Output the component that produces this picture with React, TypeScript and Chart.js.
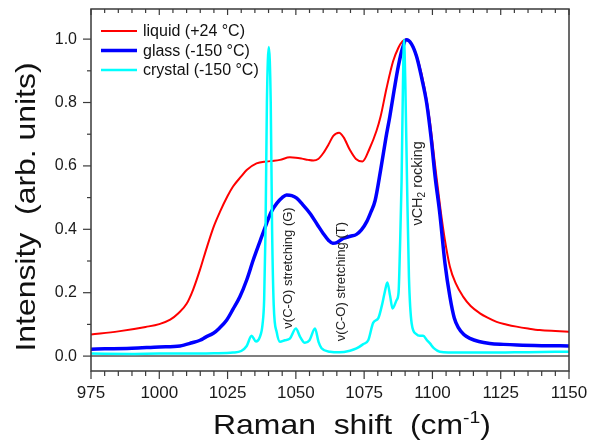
import React, { useEffect, useRef } from "react";
import { Chart, registerables } from "chart.js";

Chart.register(...registerables);

const FONT = '"Liberation Sans", Arial, Helvetica, sans-serif';

// ---------- data ----------
const xTicks = [975, 1000, 1025, 1050, 1075, 1100, 1125, 1150];
const yTicks = [0, 0.2, 0.4, 0.6, 0.8, 1.0];
const seriesNames = ["liquid (+24 °C)", "glass (-150 °C)", "crystal (-150 °C)"];

const liquidX = [975, 985, 995, 1000, 1004, 1007, 1010, 1012.4, 1015, 1017.3, 1020, 1022.2, 1025, 1027, 1030, 1032, 1035.6, 1039.3, 1042, 1044.2, 1047.8, 1050, 1052.2, 1054.5, 1056.4, 1058.2, 1060, 1062, 1063.7, 1065.8, 1067.5, 1069.8, 1072, 1074.4, 1077, 1079.5, 1081, 1083.2, 1085.6, 1087.5, 1089, 1090.3, 1091.5, 1093, 1095, 1097, 1099, 1101, 1103, 1104.5, 1106.4, 1108.5, 1111.3, 1114, 1117.4, 1120, 1123.5, 1127, 1130.8, 1135, 1139.3, 1145, 1150];
const liquidY = [0.068, 0.078, 0.092, 0.101, 0.115, 0.135, 0.165, 0.21, 0.275, 0.34, 0.41, 0.455, 0.505, 0.535, 0.567, 0.587, 0.608, 0.614, 0.616, 0.619, 0.627, 0.626, 0.623, 0.619, 0.617, 0.622, 0.64, 0.668, 0.695, 0.705, 0.69, 0.65, 0.622, 0.614, 0.655, 0.71, 0.755, 0.845, 0.93, 0.972, 0.993, 0.999, 0.995, 0.975, 0.925, 0.85, 0.745, 0.6, 0.46, 0.37, 0.282, 0.23, 0.187, 0.158, 0.135, 0.122, 0.108, 0.1, 0.093, 0.087, 0.082, 0.079, 0.077];

const glassX = [975, 990, 1000, 1007.6, 1012, 1014.9, 1017, 1019.8, 1022, 1024.7, 1027, 1029.5, 1032, 1034.4, 1037, 1039.3, 1041, 1043, 1045, 1046.6, 1048.5, 1050.3, 1052.5, 1055.2, 1058, 1060, 1062, 1063.5, 1065, 1067.3, 1070, 1072.2, 1074, 1076, 1077.5, 1079, 1081, 1083, 1084.4, 1086, 1087.5, 1089, 1090.5, 1092.3, 1094.2, 1096, 1097.9, 1099.5, 1101, 1102.7, 1104.6, 1106.4, 1108, 1109.5, 1111.5, 1113.7, 1117, 1121, 1126, 1131, 1140, 1150];
const glassY = [0.022, 0.025, 0.029, 0.032, 0.042, 0.05, 0.06, 0.072, 0.088, 0.114, 0.148, 0.187, 0.24, 0.303, 0.365, 0.419, 0.455, 0.482, 0.5, 0.508, 0.506, 0.498, 0.478, 0.45, 0.413, 0.387, 0.365, 0.356, 0.358, 0.371, 0.378, 0.384, 0.398, 0.425, 0.455, 0.49, 0.585, 0.69, 0.756, 0.84, 0.914, 0.97, 0.998, 0.985, 0.945, 0.88, 0.798, 0.69, 0.565, 0.45, 0.292, 0.187, 0.12, 0.09, 0.068, 0.056, 0.046, 0.04, 0.037, 0.035, 0.033, 0.032];

const crystalX = [975, 990, 1000, 1010, 1020, 1027, 1030, 1032, 1033.8, 1035.4, 1036.8, 1037.8, 1038.4, 1038.9, 1039.4, 1040.1, 1040.8, 1041.3, 1041.9, 1043, 1044.2, 1046, 1047.8, 1050, 1051.6, 1053.3, 1055, 1057, 1058.3, 1059.4, 1062.5, 1066, 1069.8, 1072.2, 1074.7, 1076.5, 1078.3, 1080.2, 1081.5, 1082.5, 1083.5, 1084.5, 1085.4, 1086.9, 1087.6, 1088.1, 1088.7, 1089.2, 1089.6, 1090.1, 1090.7, 1091.4, 1092.4, 1094, 1095.4, 1096.6, 1098, 1099.1, 1100.5, 1102.7, 1110, 1120, 1130, 1140, 1150];
const crystalY = [0.008, 0.007, 0.008, 0.008, 0.009, 0.011, 0.016, 0.032, 0.064, 0.046, 0.06, 0.1, 0.18, 0.4, 0.8, 0.975, 0.8, 0.4, 0.16, 0.075, 0.045, 0.05, 0.055, 0.087, 0.06, 0.042, 0.05, 0.087, 0.045, 0.025, 0.014, 0.012, 0.017, 0.024, 0.038, 0.05, 0.105, 0.12, 0.16, 0.2, 0.232, 0.19, 0.15, 0.177, 0.2, 0.335, 0.55, 0.85, 0.998, 0.85, 0.55, 0.25, 0.103, 0.07, 0.064, 0.064, 0.05, 0.04, 0.025, 0.014, 0.011, 0.011, 0.012, 0.013, 0.014];

// peak labels (text and the data position of their centre)
const peakLabelText = ["ν(C-O) stretching (G)", "ν(C-O) stretching (T)"];
const peakLabelX = [1047.1, 1066.5];
const peakLabelY = [0.278, 0.235];
const rockingLabelX = 1094.6;
const rockingLabelY = 0.545;

// ---------- styles ----------
const seriesColors = ["#ff0000", "#0000ff", "#00ffff"];
const seriesWidths = [2, 3.5, 2.5];
const TITLE_STRETCH = 1.14;

const pts = (xs: number[], ys: number[]) => xs.map((x, i) => ({ x, y: ys[i] }));

const decorPlugin = {
  id: "decor",
  beforeDatasetsDraw(chart: any) {
    const { ctx, chartArea: a, scales } = chart;
    const y0 = scales.y.getPixelForValue(0);
    ctx.save();
    ctx.strokeStyle = "#555";
    ctx.lineWidth = 1.5;
    ctx.beginPath();
    ctx.moveTo(a.left, y0);
    ctx.lineTo(a.right, y0);
    ctx.stroke();
    ctx.restore();
  },
  afterDatasetsDraw(chart: any) {
    const { ctx, chartArea: a, scales } = chart;
    const xs = scales.x;
    const ys = scales.y;
    ctx.save();
    // frame
    ctx.strokeStyle = "#3a3a3a";
    ctx.lineWidth = 1.5;
    ctx.strokeRect(a.left, a.top, a.right - a.left, a.bottom - a.top);

    // x ticks (bottom outward, top inward)
    ctx.lineWidth = 1.2;
    for (let v = 975; v <= 1150 + 1e-6; v += 5) {
      const major = Math.abs(v % 25) < 1e-6;
      const px = xs.getPixelForValue(v);
      ctx.beginPath();
      ctx.moveTo(px, a.bottom);
      ctx.lineTo(px, a.bottom + (major ? 8 : 5));
      ctx.moveTo(px, a.top);
      ctx.lineTo(px, a.top + (major ? 6 : 4));
      ctx.stroke();
    }
    // y ticks (left outward)
    for (let k = 0; k <= 10; k++) {
      const v = k / 10;
      const major = k % 2 === 0;
      const py = ys.getPixelForValue(v);
      ctx.beginPath();
      ctx.moveTo(a.left, py);
      ctx.lineTo(a.left - (major ? 8 : 4), py);
      ctx.stroke();
    }

    // peak labels
    ctx.fillStyle = "#222";
    ctx.font = `13px ${FONT}`;
    ctx.textAlign = "center";
    ctx.textBaseline = "middle";
    peakLabelText.forEach((t, i) => {
      ctx.save();
      ctx.translate(xs.getPixelForValue(peakLabelX[i]), ys.getPixelForValue(peakLabelY[i]));
      ctx.rotate(-Math.PI / 2);
      ctx.fillText(t, 0, 0);
      ctx.restore();
    });
    // νCH2 rocking with subscript
    {
      ctx.save();
      ctx.translate(xs.getPixelForValue(rockingLabelX), ys.getPixelForValue(rockingLabelY));
      ctx.rotate(-Math.PI / 2);
      ctx.textAlign = "left";
      const f1 = `14.5px ${FONT}`;
      const f2 = `10px ${FONT}`;
      ctx.font = f1;
      const w1 = ctx.measureText("νCH").width;
      const w3 = ctx.measureText(" rocking").width;
      ctx.font = f2;
      const w2 = ctx.measureText("2").width;
      const total = w1 + w2 + w3;
      let cx = -total / 2;
      ctx.font = f1;
      ctx.fillText("νCH", cx, 0);
      cx += w1;
      ctx.font = f2;
      ctx.fillText("2", cx, 5);
      cx += w2;
      ctx.font = f1;
      ctx.fillText(" rocking", cx, 0);
      ctx.restore();
    }

    // legend
    ctx.font = `16px ${FONT}`;
    ctx.textAlign = "left";
    ctx.textBaseline = "middle";
    seriesNames.forEach((n, i) => {
      const ly = a.top + 22 + i * 19.5;
      ctx.strokeStyle = seriesColors[i];
      ctx.lineWidth = seriesWidths[i];
      ctx.beginPath();
      ctx.moveTo(a.left + 10, ly);
      ctx.lineTo(a.left + 46, ly);
      ctx.stroke();
      ctx.fillStyle = "#111";
      ctx.fillText(n, a.left + 52, ly + 1);
    });
    ctx.restore();
  },
  afterDraw(chart: any) {
    const { ctx } = chart;
    ctx.save();
    ctx.fillStyle = "#111";
    // y title
    ctx.font = `28px ${FONT}`;
    ctx.textAlign = "center";
    ctx.textBaseline = "alphabetic";
    ctx.save();
    ctx.translate(35, 207);
    ctx.rotate(-Math.PI / 2);
    ctx.scale(TITLE_STRETCH, 1);
    ctx.fillText("Intensity  (arb. units)", 0, 0);
    ctx.restore();
    // x title
    const p1 = "Raman  shift  (cm";
    const p2 = "-1";
    const p3 = ")";
    const big = `28px ${FONT}`;
    const small = `17px ${FONT}`;
    ctx.font = big;
    const w1 = ctx.measureText(p1).width;
    const w3 = ctx.measureText(p3).width;
    ctx.font = small;
    const w2 = ctx.measureText(p2).width;
    const total = w1 + w2 + w3;
    ctx.save();
    ctx.translate(352, 434);
    ctx.scale(TITLE_STRETCH, 1);
    ctx.textAlign = "left";
    let x0 = -total / 2;
    ctx.font = big;
    ctx.fillText(p1, x0, 0);
    x0 += w1;
    ctx.font = small;
    ctx.fillText(p2, x0, -11);
    x0 += w2;
    ctx.font = big;
    ctx.fillText(p3, x0, 0);
    ctx.restore();
    ctx.restore();
  },
};

const noPad = (s: any) => {
  s.paddingLeft = 0;
  s.paddingRight = 0;
  s.paddingTop = 0;
  s.paddingBottom = 0;
};

export default function App() {
  const ref = useRef<HTMLCanvasElement | null>(null);
  useEffect(() => {
    if (!ref.current) return;
    const chart = new Chart(ref.current, {
      type: "line",
      data: {
        datasets: [
          { label: seriesNames[0], data: pts(liquidX, liquidY), borderColor: seriesColors[0], borderWidth: seriesWidths[0], order: 3 },
          { label: seriesNames[1], data: pts(glassX, glassY), borderColor: seriesColors[1], borderWidth: seriesWidths[1], order: 2 },
          { label: seriesNames[2], data: pts(crystalX, crystalY), borderColor: seriesColors[2], borderWidth: seriesWidths[2], order: 1 },
        ],
      },
      options: {
        responsive: false,
        animation: false,
        elements: {
          point: { radius: 0 },
          line: { cubicInterpolationMode: "monotone", fill: false },
        },
        layout: { padding: { top: 9, right: 20, left: 0, bottom: 0 } },
        plugins: { legend: { display: false }, tooltip: { enabled: false }, title: { display: false } },
        scales: {
          x: {
            type: "linear",
            min: 975,
            max: 1150,
            grid: { display: false, drawTicks: false },
            border: { display: false },
            afterBuildTicks: (s: any) => { s.ticks = xTicks.map((v) => ({ value: v })); },
            afterFit: (s: any) => { s.height = 74; noPad(s); },
            ticks: {
              autoSkip: false,
              maxRotation: 0,
              padding: 12,
              color: "#1a1a1a",
              font: { family: FONT, size: 17 },
              callback: (v: any) => String(v),
            },
          },
          y: {
            type: "linear",
            min: -0.047,
            max: 1.095,
            grid: { display: false, drawTicks: false },
            border: { display: false },
            afterBuildTicks: (s: any) => { s.ticks = yTicks.map((v) => ({ value: v })); },
            afterFit: (s: any) => { s.width = 91; noPad(s); },
            ticks: {
              autoSkip: false,
              padding: 14,
              color: "#1a1a1a",
              font: { family: FONT, size: 16 },
              callback: (v: any) => Number(v).toFixed(1),
            },
          },
        },
      },
      plugins: [decorPlugin],
    } as any);
    return () => chart.destroy();
  }, []);
  return (
    <div style={{ position: "absolute", left: 0, top: 0, width: 589, height: 445, background: "#fff" }}>
      <canvas ref={ref} width={589} height={445} style={{ display: "block" }} />
    </div>
  );
}
